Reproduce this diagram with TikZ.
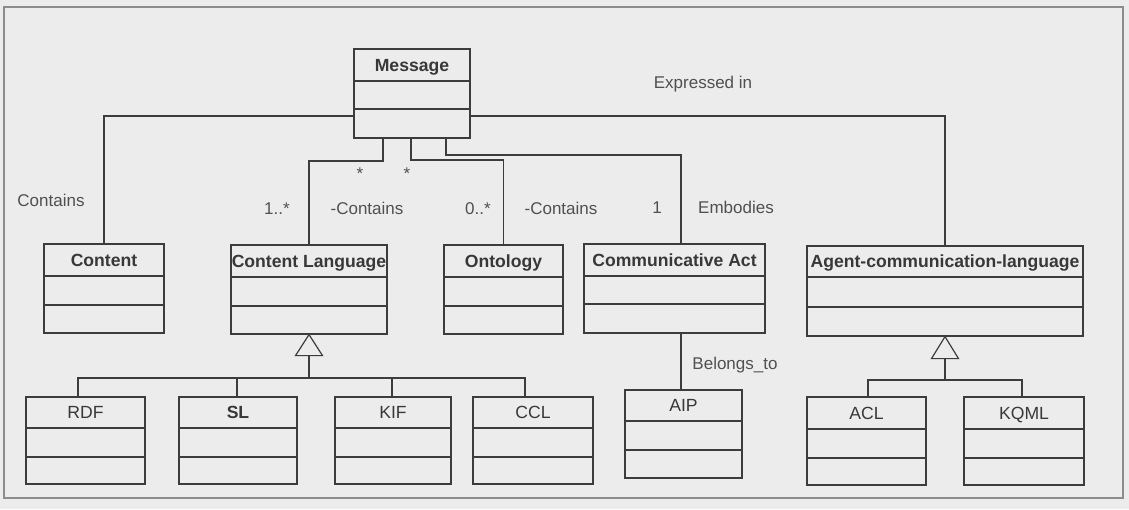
\documentclass[tikz,border=0pt]{standalone}
\usepackage{fontspec}
\setmainfont{Liberation Sans}
\definecolor{linec}{HTML}{3C3C3C}
\definecolor{textc}{HTML}{383838}
\definecolor{lblc}{HTML}{505050}
\definecolor{bgc}{HTML}{ECECEC}
\definecolor{framec}{HTML}{8C8C8C}
% UML class: name, left, top, right, bottom, first divider, second divider, title, title style
\newcommand\umlclass[9]{%
  \node[classbox, minimum width={(#4-#2)*1pt}, minimum height={(#5-#3)*1pt}] (#1) at ({(#2+#4)/2},{(#3+#5)/2}) {};
  \draw[line] (#1.west |- 0,#6) -- (#1.east |- 0,#6);
  \draw[line] (#1.west |- 0,#7) -- (#1.east |- 0,#7);
  \node[#9] (#1-title) at ({(#2+#4)/2},{(#3+#6)/2}) {#8};
}
\begin{document}
\begin{tikzpicture}[x=1pt,y=-1pt,
  line/.style={draw=linec, line width=1.2pt},
  classbox/.style={draw=linec, line width=1.2pt, rectangle, inner sep=0pt},
  title/.style={font=\fontsize{17.6}{20}\selectfont\bfseries, text=textc, inner sep=0pt, text height=12.8pt, text depth=0pt},
  plaintitle/.style={title, font=\fontsize{17.6}{20}\selectfont},
  lbl/.style={font=\fontsize{17}{20}\selectfont, text=lblc, inner sep=0pt, text height=12.5pt, text depth=0pt},
  gen/.style={draw=linec, line width=1.2pt, fill=bgc, line join=miter},
]
\useasboundingbox (0,0) rectangle (1129,509);
\fill[bgc] (0,0) rectangle (1129,509);
\draw[framec, line width=1.8pt] (4,7) rectangle (1123,498);

% classes
\umlclass{msg}{354}{49}{470}{138}{81}{109}{Message}{title}
\umlclass{content}{44}{244}{164}{333}{276}{305}{Content}{title}
\umlclass{cl}{231}{245}{387}{334}{277}{306}{Content Language}{title}
\umlclass{onto}{444}{245}{563}{334}{277}{306}{Ontology}{title}
\umlclass{ca}{584}{244}{765}{333}{276}{304}{Communicative Act}{title}
\umlclass{agent}{807}{246}{1083}{336}{277}{307}{Agent-communication-language}{title}
\umlclass{rdf}{26}{397}{145}{484}{428}{457}{RDF}{plaintitle}
\umlclass{sl}{179}{397}{297}{484}{428}{457}{SL}{title}
\umlclass{kif}{335}{397}{451}{484}{428}{457}{KIF}{plaintitle}
\umlclass{ccl}{473}{397}{593}{484}{428}{457}{CCL}{plaintitle}
\umlclass{aip}{625}{390}{742}{478}{421}{450}{AIP}{plaintitle}
\umlclass{acl}{807}{397}{926}{485}{429}{458}{ACL}{plaintitle}
\umlclass{kqml}{964}{397}{1084}{485}{429}{458}{KQML}{plaintitle}

% associations from Message
\draw[line] (msg.west |- 0,116) -| (content.north);
\draw[line] (msg.south -| 383,0) -- (383,161) -| (cl.north);
\draw[line] (msg.south -| 411,0) -- (411,160) -| (onto.north);
\draw[line] (msg.south -| 446,0) -- (446,155) -| (ca.north -| 681,0);
\draw[line] (msg.east |- 0,116) -| (agent.north);
\draw[line] (ca.south -| 681,0) -- (aip.north -| 681,0);

% generalization: content languages
\draw[gen] (cl.south) -- ++(-13.5,21) -- ++(27,0) -- cycle;
\coordinate (clbus) at (cl.south |- 0,378);
\draw[line] ([yshift=-21pt]cl.south) -- (clbus);
\draw[line] (rdf.north -| 78,0) -- (78,378) -- (525,378) -- (ccl.north -| 525,0);
\draw[line] (sl.north -| 237,0) -- (237,378);
\draw[line] (kif.north -| 392,0) -- (392,378);

% generalization: agent communication languages
\draw[gen] (agent.south) -- ++(-13.5,22) -- ++(27,0) -- cycle;
\coordinate (agbus) at (agent.south |- 0,380);
\draw[line] ([yshift=-22pt]agent.south) -- (agbus);
\draw[line] (acl.north -| 868,0) -- (868,380) -- (1022,380) -- (kqml.north -| 1022,0);

% association labels
\node[lbl] (l-contains) at (51,200) {Contains};
\node[lbl] (l-expr) at (703,82) {Expressed in};
\node[lbl] (l-m1) at (277,208) {1..*};
\node[lbl] (l-c1) at (367,208) {-Contains};
\node[lbl] (l-m2) at (478,208) {0..*};
\node[lbl] (l-c2) at (561,208) {-Contains};
\node[lbl] (l-m3) at (657,207) {1};
\node[lbl] (l-emb) at (736,207) {Embodies};
\node[lbl] (l-bel) at (735,363) {Belongs\_to};
\node[lbl] (l-s1) at (360,173) {*};
\node[lbl] (l-s2) at (407,173) {*};
\end{tikzpicture}
\end{document}
